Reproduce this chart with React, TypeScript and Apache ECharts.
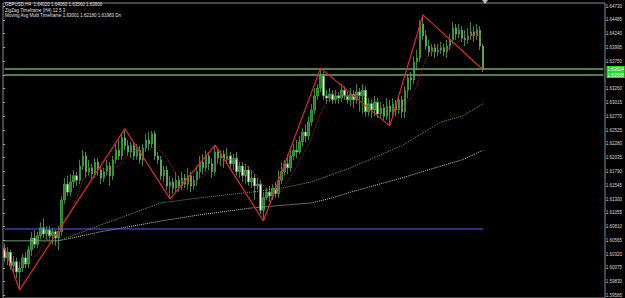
import React, { useEffect, useRef } from "react";
import * as echarts from "echarts";

// [open, close, low, high]
const CANDLES: number[][] = [
  [1.6045, 1.6028, 1.6021, 1.6052], [1.6028, 1.6038, 1.6015, 1.6047], [1.6038, 1.6014, 1.6007, 1.6042], [1.6014, 1.6021, 1.6003, 1.6031],
  [1.6021, 1.6003, 1.5992, 1.6028], [1.6003, 1.6010, 1.5971, 1.6021], [1.6010, 1.6028, 1.6003, 1.6035], [1.6028, 1.6017, 1.6010, 1.6038],
  [1.6017, 1.6042, 1.6010, 1.6049], [1.6042, 1.6063, 1.6031, 1.6074], [1.6063, 1.6052, 1.6045, 1.6077], [1.6052, 1.6067, 1.6045, 1.6074],
  [1.6067, 1.6081, 1.6060, 1.6091], [1.6081, 1.6070, 1.6063, 1.6098], [1.6070, 1.6077, 1.6060, 1.6084], [1.6077, 1.6067, 1.6060, 1.6084],
  [1.6067, 1.6074, 1.6052, 1.6081], [1.6074, 1.6063, 1.6049, 1.6077], [1.6063, 1.6074, 1.6042, 1.6084], [1.6074, 1.6130, 1.6067, 1.6137],
  [1.6130, 1.6158, 1.6123, 1.6169], [1.6158, 1.6144, 1.6137, 1.6173], [1.6144, 1.6162, 1.6137, 1.6176], [1.6162, 1.6173, 1.6151, 1.6183],
  [1.6173, 1.6165, 1.6155, 1.6180], [1.6165, 1.6190, 1.6158, 1.6201], [1.6190, 1.6208, 1.6183, 1.6218], [1.6208, 1.6180, 1.6169, 1.6215],
  [1.6180, 1.6187, 1.6173, 1.6201], [1.6187, 1.6176, 1.6165, 1.6194], [1.6176, 1.6197, 1.6169, 1.6204], [1.6197, 1.6183, 1.6173, 1.6204],
  [1.6183, 1.6169, 1.6158, 1.6190], [1.6169, 1.6180, 1.6162, 1.6187], [1.6180, 1.6190, 1.6173, 1.6201], [1.6190, 1.6173, 1.6155, 1.6197],
  [1.6173, 1.6201, 1.6165, 1.6208], [1.6201, 1.6218, 1.6194, 1.6229], [1.6218, 1.6208, 1.6201, 1.6236], [1.6208, 1.6240, 1.6201, 1.6247],
  [1.6240, 1.6226, 1.6218, 1.6256], [1.6226, 1.6215, 1.6208, 1.6236], [1.6215, 1.6226, 1.6204, 1.6233], [1.6226, 1.6208, 1.6201, 1.6233],
  [1.6208, 1.6218, 1.6201, 1.6229], [1.6218, 1.6201, 1.6194, 1.6226], [1.6201, 1.6222, 1.6190, 1.6229], [1.6222, 1.6236, 1.6215, 1.6247],
  [1.6236, 1.6229, 1.6218, 1.6250], [1.6229, 1.6247, 1.6222, 1.6252], [1.6247, 1.6208, 1.6201, 1.6252], [1.6208, 1.6201, 1.6194, 1.6215],
  [1.6201, 1.6173, 1.6165, 1.6208], [1.6173, 1.6183, 1.6162, 1.6190], [1.6183, 1.6155, 1.6148, 1.6190], [1.6155, 1.6162, 1.6132, 1.6173],
  [1.6162, 1.6151, 1.6141, 1.6169], [1.6151, 1.6165, 1.6144, 1.6180], [1.6165, 1.6155, 1.6144, 1.6173], [1.6155, 1.6169, 1.6148, 1.6180],
  [1.6169, 1.6158, 1.6151, 1.6176], [1.6158, 1.6173, 1.6148, 1.6187], [1.6173, 1.6155, 1.6144, 1.6180], [1.6155, 1.6165, 1.6148, 1.6173],
  [1.6165, 1.6180, 1.6155, 1.6190], [1.6180, 1.6197, 1.6169, 1.6208], [1.6197, 1.6187, 1.6176, 1.6211], [1.6187, 1.6208, 1.6180, 1.6218],
  [1.6208, 1.6194, 1.6183, 1.6215], [1.6194, 1.6180, 1.6169, 1.6204], [1.6180, 1.6215, 1.6173, 1.6227], [1.6215, 1.6204, 1.6194, 1.6222],
  [1.6204, 1.6211, 1.6190, 1.6218], [1.6211, 1.6201, 1.6187, 1.6218], [1.6201, 1.6208, 1.6194, 1.6222], [1.6208, 1.6194, 1.6187, 1.6215],
  [1.6194, 1.6204, 1.6183, 1.6211], [1.6204, 1.6180, 1.6173, 1.6215], [1.6180, 1.6190, 1.6169, 1.6197], [1.6190, 1.6173, 1.6162, 1.6197],
  [1.6173, 1.6183, 1.6158, 1.6194], [1.6183, 1.6162, 1.6155, 1.6190], [1.6162, 1.6169, 1.6151, 1.6183], [1.6169, 1.6155, 1.6130, 1.6176],
  [1.6155, 1.6158, 1.6148, 1.6169], [1.6158, 1.6112, 1.6105, 1.6165], [1.6112, 1.6134, 1.6093, 1.6144], [1.6134, 1.6144, 1.6130, 1.6151],
  [1.6144, 1.6137, 1.6127, 1.6155], [1.6137, 1.6151, 1.6130, 1.6158], [1.6151, 1.6141, 1.6134, 1.6162], [1.6141, 1.6165, 1.6134, 1.6183],
  [1.6165, 1.6180, 1.6158, 1.6197], [1.6180, 1.6194, 1.6173, 1.6201], [1.6194, 1.6187, 1.6176, 1.6211], [1.6187, 1.6208, 1.6180, 1.6218],
  [1.6208, 1.6218, 1.6201, 1.6229], [1.6218, 1.6215, 1.6204, 1.6236], [1.6215, 1.6233, 1.6211, 1.6243], [1.6233, 1.6250, 1.6226, 1.6257],
  [1.6250, 1.6243, 1.6233, 1.6264], [1.6243, 1.6268, 1.6236, 1.6278], [1.6268, 1.6289, 1.6261, 1.6300], [1.6289, 1.6314, 1.6282, 1.6328],
  [1.6314, 1.6328, 1.6307, 1.6335], [1.6328, 1.6349, 1.6321, 1.6363], [1.6349, 1.6314, 1.6307, 1.6356], [1.6314, 1.6310, 1.6300, 1.6324],
  [1.6310, 1.6317, 1.6303, 1.6328], [1.6317, 1.6307, 1.6300, 1.6324], [1.6307, 1.6314, 1.6300, 1.6324], [1.6314, 1.6310, 1.6300, 1.6321],
  [1.6310, 1.6324, 1.6303, 1.6335], [1.6324, 1.6314, 1.6307, 1.6331], [1.6314, 1.6307, 1.6300, 1.6321], [1.6307, 1.6317, 1.6296, 1.6328],
  [1.6317, 1.6307, 1.6293, 1.6324], [1.6307, 1.6321, 1.6300, 1.6335], [1.6321, 1.6314, 1.6286, 1.6328], [1.6314, 1.6324, 1.6282, 1.6335],
  [1.6324, 1.6286, 1.6278, 1.6331], [1.6286, 1.6300, 1.6278, 1.6310], [1.6300, 1.6289, 1.6275, 1.6307], [1.6289, 1.6303, 1.6278, 1.6314],
  [1.6303, 1.6282, 1.6275, 1.6310], [1.6282, 1.6293, 1.6275, 1.6303], [1.6293, 1.6278, 1.6271, 1.6300], [1.6278, 1.6296, 1.6271, 1.6310],
  [1.6296, 1.6286, 1.6261, 1.6307], [1.6286, 1.6300, 1.6275, 1.6310], [1.6300, 1.6289, 1.6278, 1.6307], [1.6289, 1.6307, 1.6282, 1.6314],
  [1.6307, 1.6286, 1.6275, 1.6314], [1.6286, 1.6324, 1.6275, 1.6331], [1.6324, 1.6346, 1.6310, 1.6353], [1.6346, 1.6342, 1.6324, 1.6356],
  [1.6342, 1.6374, 1.6335, 1.6384], [1.6374, 1.6381, 1.6360, 1.6395], [1.6381, 1.6441, 1.6374, 1.6448], [1.6441, 1.6420, 1.6413, 1.6457],
  [1.6420, 1.6402, 1.6395, 1.6430], [1.6402, 1.6392, 1.6384, 1.6413], [1.6392, 1.6399, 1.6384, 1.6406], [1.6399, 1.6392, 1.6381, 1.6406],
  [1.6392, 1.6395, 1.6384, 1.6406], [1.6395, 1.6399, 1.6388, 1.6409], [1.6399, 1.6392, 1.6384, 1.6406], [1.6392, 1.6402, 1.6381, 1.6413],
  [1.6402, 1.6413, 1.6395, 1.6423], [1.6413, 1.6434, 1.6406, 1.6444], [1.6434, 1.6423, 1.6413, 1.6441], [1.6423, 1.6430, 1.6416, 1.6441],
  [1.6430, 1.6416, 1.6409, 1.6437], [1.6416, 1.6413, 1.6402, 1.6430], [1.6413, 1.6420, 1.6406, 1.6434], [1.6420, 1.6427, 1.6413, 1.6444],
  [1.6427, 1.6420, 1.6409, 1.6437], [1.6420, 1.6430, 1.6413, 1.6441], [1.6430, 1.6402, 1.6395, 1.6437], [1.6402, 1.6360, 1.6356, 1.6406],
];

// ZigZag pivots: [bar index, price]
const ZIGZAG: number[][] = [
  [0, 1.6045], [5, 1.5971], [40, 1.6256], [55, 1.6132], [70, 1.6227],
  [86, 1.6093], [105, 1.6363], [128, 1.6261], [139, 1.6457], [159, 1.6360],
];

// Higher-timeframe moving averages: [bar index, price]
const MA_GREEN: number[][] = [
  [0, 1.6058], [18, 1.6058], [32, 1.6086], [52, 1.6125], [65, 1.6134], [82, 1.6144],
  [92, 1.6151], [102, 1.6162], [115, 1.6187], [132, 1.6226], [145, 1.6268], [152, 1.6278], [159, 1.6300],
];
const MA_WHITE: number[][] = [
  [0, 1.6058], [18, 1.6058], [32, 1.6074], [52, 1.6093], [65, 1.6104], [82, 1.6116],
  [102, 1.6125], [109, 1.6134], [115, 1.6144], [132, 1.6169], [145, 1.6190], [152, 1.6201], [159, 1.6218],
];

const BLUE_LEVEL = 1.60789;
const GREEN_LEVELS = [1.63614, 1.63508];
const FAST_MA_PERIOD = 8;

const TICK_LABELS = [
  "1.64730", "1.64485", "1.64240", "1.63995", "1.63750", "1.63505", "1.63260", "1.63015",
  "1.62770", "1.62525", "1.62280", "1.62035", "1.61790", "1.61545", "1.61300", "1.61055",
  "1.60810", "1.60565", "1.60320", "1.60075", "1.59830", "1.59585",
];

const HEADER_LINES = [
  "GBPUSD,H4  1.64020 1.64060 1.63560 1.63600",
  "ZigZag Timeframe (H4) 12 5 3",
  "Moving Avg Multi Timeframe 1.63001 1.62180 1.61983 Dn",
];

const TOTAL_SLOTS = 200;

export default function App() {
  const ref = useRef<HTMLDivElement>(null);
  useEffect(() => {
    document.body.style.margin = "0";
    document.body.style.background = "#000";
    if (!ref.current) return;
    const chart = echarts.init(ref.current, undefined, { renderer: "svg" });
    const cats = Array.from({ length: TOTAL_SLOTS }, (_, i) => String(i));
    const fastMA: number[][] = [];
    for (let i = FAST_MA_PERIOD - 1; i < CANDLES.length; i++) {
      let s = 0;
      for (let k = 0; k < FAST_MA_PERIOD; k++) s += CANDLES[i - k][1];
      fastMA.push([i, s / FAST_MA_PERIOD]);
    }
    // tick label hidden by the price boxes, as in the terminal
    const hidden = TICK_LABELS.filter((t) =>
      GREEN_LEVELS.some((g) => Math.abs(parseFloat(t) - g) < 0.0009)
    );
    const font = "Liberation Sans, Arial, sans-serif";
    const levelSeries = GREEN_LEVELS.map((v) => ({
      type: "line",
      data: [[0, v], [TOTAL_SLOTS - 1, v]],
      showSymbol: false,
      silent: true,
      lineStyle: { color: "#6fa56f", width: 1.5 },
      z: 3,
      endLabel: {
        show: true,
        distance: 3,
        fontSize: 4.5,
        fontFamily: font,
        color: "#eaffea",
        backgroundColor: "#2fcf2f",
        padding: [0.5, 1],
        formatter: () => v.toFixed(5),
      },
    }));
    chart.setOption({
      animation: false,
      backgroundColor: "#000",
      grid: [
        { left: 3, right: 20, top: 3, bottom: 0, show: true, borderColor: "#8a8a8a", borderWidth: 1, backgroundColor: "transparent" },
        { left: 3, right: 20, top: 6, bottom: 1, show: false },
      ],
      xAxis: [
        { type: "category", data: cats, boundaryGap: true, show: false, gridIndex: 0 },
        { type: "value", gridIndex: 1, show: false, min: 0, max: 1 },
      ],
      yAxis: [
        { type: "value", gridIndex: 0, min: 1.5957, max: 1.6478, show: false },
        {
          type: "category",
          gridIndex: 1,
          position: "right",
          boundaryGap: false,
          data: [...TICK_LABELS].reverse(),
          axisLine: { show: false },
          axisTick: { show: true, length: 2, lineStyle: { color: "#aaaaaa" }, interval: 0 },
          axisLabel: {
            color: "#d8d8d8",
            fontSize: 4.5,
            fontFamily: font,
            margin: 3,
            interval: 0,
            formatter: (v: string) => (hidden.includes(v) ? "" : v),
          },
          splitLine: { show: false },
        },
      ],
      graphic: [
        ...HEADER_LINES.map((t, i) => ({
          type: "text",
          left: 5,
          top: 2 + i * 5.5,
          style: { text: t, fill: "#e0e0e0", fontSize: 4.5, fontFamily: font },
          z: 100,
        })),
        { type: "polygon", shape: { points: [[482, 0], [488, 0], [485, 4]] }, style: { fill: "#bbbbbb" }, z: 100 },
      ],
      series: [
        {
          type: "candlestick",
          xAxisIndex: 0,
          yAxisIndex: 0,
          data: CANDLES,
          barWidth: 2,
          itemStyle: {
            color: "#2f7d2f",
            color0: "#eef5e8",
            borderColor: "#45a845",
            borderColor0: "#5aa85a",
            borderWidth: 0.8,
          },
          z: 2,
        },
        ...levelSeries,
        {
          type: "line",
          data: MA_WHITE,
          showSymbol: false,
          lineStyle: { color: "#c9c9b2", width: 1, type: "dotted" },
          z: 3,
        },
        {
          type: "line",
          data: MA_GREEN,
          showSymbol: false,
          lineStyle: { color: "#58a858", width: 1, type: "dotted" },
          z: 3,
        },
        {
          type: "line",
          data: fastMA,
          showSymbol: false,
          lineStyle: { color: "#a02424", width: 1, type: "dotted" },
          z: 3,
        },
        {
          type: "line",
          data: [[0, BLUE_LEVEL], [CANDLES.length - 1, BLUE_LEVEL]],
          showSymbol: false,
          lineStyle: { color: "#5a5aff", width: 1 },
          z: 3,
        },
        {
          type: "line",
          data: ZIGZAG,
          showSymbol: false,
          lineStyle: { color: "#dd2a2a", width: 1.2 },
          z: 4,
        },
      ],
    });
    return () => chart.dispose();
  }, []);
  return (
    <div
      ref={ref}
      style={{ position: "fixed", left: 0, top: 0, width: 625, height: 298, background: "#000" }}
    />
  );
}
